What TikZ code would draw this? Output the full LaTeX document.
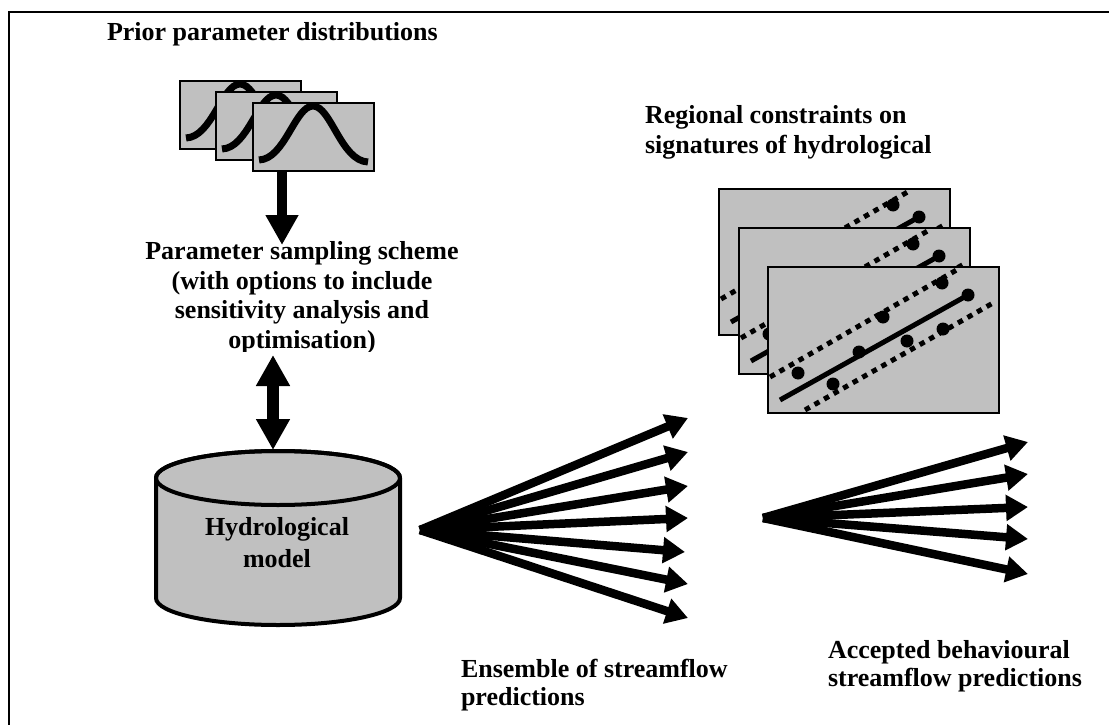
\documentclass[tikz,border=0pt]{standalone}
\usepackage{fontspec}
\setmainfont{Liberation Serif}
\usetikzlibrary{arrows.meta}
\definecolor{panel}{HTML}{C0C0C0}
\tikzset{
  lbl/.style={font=\fontsize{26}{29.5}\selectfont\bfseries, inner sep=0pt, outer sep=0pt, align=center},
  distcard/.style={draw, line width=2pt, fill=panel, anchor=north west, inner sep=0pt, outer sep=0pt,
    minimum width=121pt, minimum height=68pt},
  sigcard/.style={draw, line width=2.5pt, fill=panel, anchor=north west, inner sep=0pt, outer sep=0pt,
    minimum width=231pt, minimum height=146pt},
  bigarrow/.style={line width=10pt, -{Triangle[width=31pt,length=30pt]}},
  duoarrow/.style={line width=12pt, {Triangle[width=32pt,length=31pt]}-{Triangle[width=32pt,length=31pt]}},
  fanarrow/.style={line width=8.5pt, -{Triangle[width=25pt,length=22pt]}},
  bell/.pic={
    \draw[line width=7pt] (6,57) .. controls (32,56) and (42,3) .. (60,3)
      .. controls (78,3) and (88,58) .. (115,59);
  },
  scatter/.pic={
    \draw[line width=5pt, dash pattern=on 5.5pt off 5.5pt] (2,110) -- (192,1);
    \draw[line width=5pt, dash pattern=on 5.5pt off 5.5pt] (37,143) -- (225,36);
    \draw[line width=5pt] (12,133) -- (200,28);
    \foreach \a/\b in {30/106, 65/117, 91/85, 115/50, 139/74, 175/62, 174/16, 200/28}
      \fill (\a,\b) circle[radius=6.5];
  }
}
\begin{document}
\begin{tikzpicture}[x=1pt, y=-1pt]
\useasboundingbox (0,0) rectangle (1109,725);
\clip (0,0) rectangle (1109,725);

% outer frame
\draw[line width=2pt] (9,760) -- (9,12) -- (1130,12);

% prior parameter distributions
\node[lbl, anchor=base west] (prior) at (107,41) {Prior parameter distributions};
\node[distcard] (d1) at (180,81) {};
\pic at (d1.north west) {bell};
\node[distcard] (d2) at (216,92) {};
\pic at (d2.north west) {bell};
\node[distcard] (d3) at (253,103) {};
\pic at (d3.north west) {bell};

% sampling scheme (multi-line nodes: base = last baseline)
\begin{scope}
  \clip (100,215) rectangle (500,351);
  \node[lbl, anchor=base] (samp) at (302,348)
    {Parameter sampling scheme\\(with options to include\\sensitivity analysis and\\optimisation)};
\end{scope}
\coordinate (a1s) at (282,171);
\coordinate (a1e) at (282,245);
\draw[bigarrow] (a1s) -- (a1e);

% hydrological model (cylinder)
\filldraw[fill=panel, line width=4pt]
  (156,478) -- (156,598) arc[start angle=180, end angle=0, x radius=122, y radius=27]
  -- (400,478) arc[start angle=0, end angle=-180, x radius=122, y radius=27] -- cycle;
\draw[line width=4pt] (278,478) ellipse[x radius=122, y radius=27];
\node[lbl, font=\fontsize{26}{32}\selectfont\bfseries, anchor=base] (model) at (277,567) {Hydrological\\model};
\coordinate (a2s) at (273,355);
\coordinate (a2e) at (273,450);
\draw[duoarrow] (a2s) -- (a2e);

% regional constraints
\node[lbl, align=left, font=\fontsize{26}{29}\selectfont\bfseries, anchor=base west] (regional) at (645,153)
  {Regional constraints on\\signatures of hydrological};
\node[sigcard] (s1) at (719,189) {};
\pic at (s1.north west) {scatter};
\node[sigcard] (s2) at (739,228) {};
\pic at (s2.north west) {scatter};
\node[sigcard] (s3) at (768,267) {};
\pic at (s3.north west) {scatter};

% ensemble of predictions
\coordinate (ens) at (420,530);
\foreach \i/\x/\y in {1/688/418, 2/688/452, 3/688/486, 4/688/518, 5/685/552, 6/688/584, 7/688/618}
  \coordinate (e\i) at (\x,\y);
\foreach \i in {1,...,7}
  \draw[fanarrow] (ens) -- (e\i);
\node[lbl, align=left, font=\fontsize{26}{28}\selectfont\bfseries, anchor=base west] (ensemble) at (461,705)
  {Ensemble of streamflow\\predictions};

% accepted predictions
\coordinate (acc) at (763,518);
\foreach \i/\y in {1/442, 2/474, 3/507, 4/539, 5/574}
  \coordinate (b\i) at (1028,\y);
\foreach \i in {1,...,5}
  \draw[fanarrow] (acc) -- (b\i);
\node[lbl, align=left, font=\fontsize{26}{28}\selectfont\bfseries, anchor=base west] (accepted) at (828,686)
  {Accepted behavioural\\streamflow predictions};
\end{tikzpicture}
\end{document}
